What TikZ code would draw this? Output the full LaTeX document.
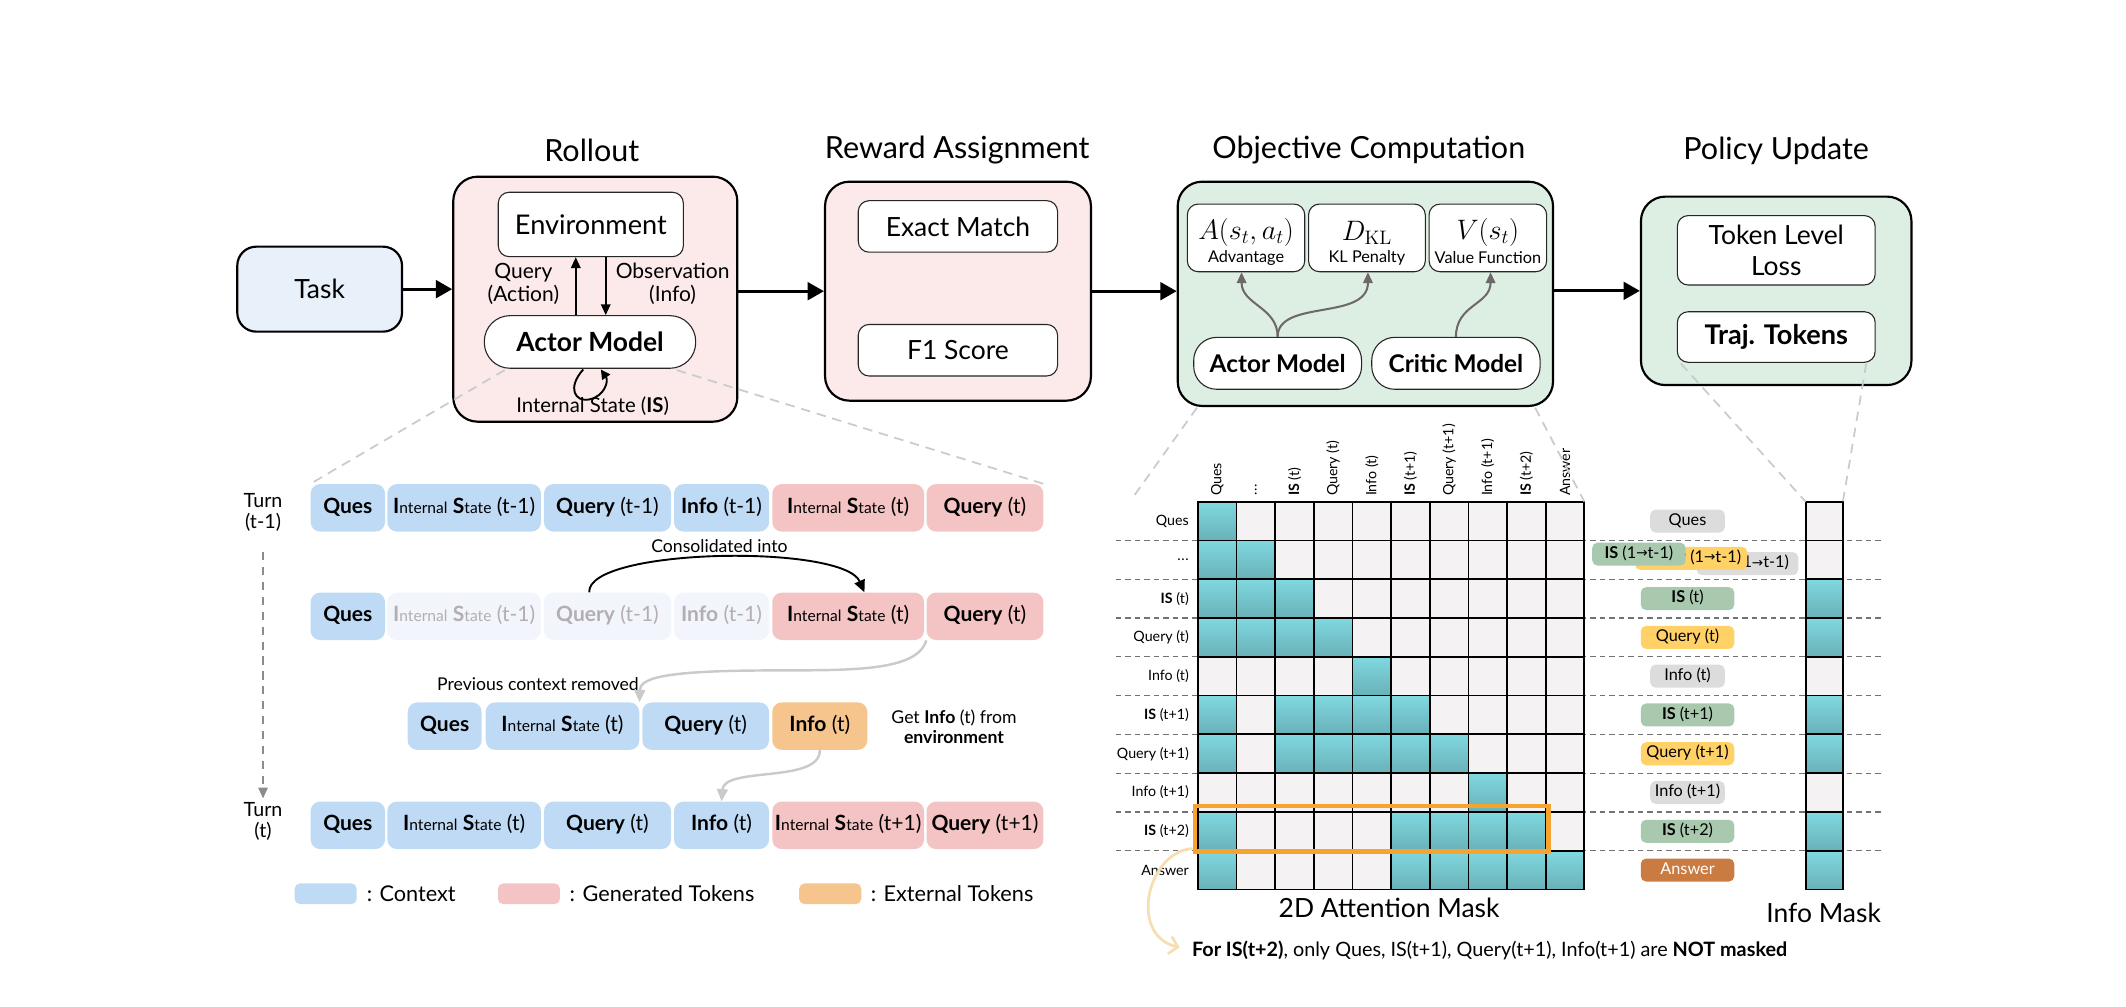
\documentclass[tikz,border=0pt]{standalone}
\usepackage[no-math]{fontspec}
\setmainfont{Lato}
\newfontfamily\arrowfont{DejaVu Sans}
\usetikzlibrary{arrows.meta,calc}
\newcommand\fsz[1]{\fontsize{#1}{\dimexpr #1pt*12/10\relax}\selectfont}
\newcommand\istok[2][11.5]{\textbf{I}{\fsz{#1}nternal} \textbf{S}{\fsz{#1}tate} #2}
\newcommand\arr{{\arrowfont\fsz{10}\raisebox{0.5pt}{→}}}
\newcommand\threedots{.\kern0.5pt.\kern0.5pt.}
\definecolor{taskblue}{HTML}{E8F0F9}
\definecolor{rpink}{HTML}{FCE9E9}
\definecolor{ogreen}{HTML}{DDEEE3}
\definecolor{tokblue}{HTML}{BFDAF4}
\definecolor{tokpink}{HTML}{F4C3C3}
\definecolor{tokorange}{HTML}{F6C48D}
\definecolor{tokfade}{HTML}{F2F5FB}
\definecolor{fadetext}{HTML}{B3AEB3}
\definecolor{tealT}{HTML}{80D8E0}
\definecolor{tealB}{HTML}{69B1B8}
\definecolor{cellE}{HTML}{F4F2F2}
\definecolor{pgray}{HTML}{DCDCDC}
\definecolor{pgreen}{HTML}{A9C9AE}
\definecolor{pyellow}{HTML}{FFD166}
\definecolor{pbrown}{HTML}{C97B42}
\definecolor{hlorange}{HTML}{F7A330}
\definecolor{tanarrow}{HTML}{F5DEB2}
\definecolor{zoomgray}{HTML}{CBCBCB}
\definecolor{arrgray}{HTML}{6E6969}
\definecolor{curvegray}{HTML}{CACACA}
\begin{document}
\begin{tikzpicture}[x=1pt,y=-1pt,
  title/.style={font=\fsz{22.5}, inner sep=0},
  stage/.style={draw=black, line width=1.6pt, rounded corners=18pt, inner sep=0},
  inbox/.style={draw=black!85, line width=0.8pt, fill=white, rounded corners=8pt, inner sep=0, font=\fsz{19.5}},
  pillbox/.style={draw=black!85, line width=0.8pt, fill=white, rounded corners=17pt, inner sep=0, font=\fsz{18}\bfseries},
  flow/.style={line width=2.2pt, -{Triangle[length=12pt,width=13pt]}},
  thin/.style={line width=1.4pt, -{Triangle[length=8pt,width=7pt]}},
  grayarr/.style={draw=arrgray, line width=1.5pt, -{Triangle[length=8pt,width=7pt]}},
  tok/.style={rounded corners=7pt, inner sep=0, minimum height=35, font=\fsz{15.5}, text height=11.5pt, text depth=3.5pt},
  zoomline/.style={draw=zoomgray, line width=1.3pt, dash pattern=on 7pt off 5pt},
  rowdash/.style={draw=black!55, line width=0.9pt, dash pattern=on 4pt off 3pt},
  lbl/.style={font=\fsz{10.5}, inner sep=0},
  tag/.style={rounded corners=4pt, inner sep=0, minimum height=17, font=\fsz{12}, text height=8.5pt, text depth=2.5pt},
  note/.style={font=\fsz{13}, inner sep=0},
  swatch/.style={rounded corners=4pt, inner sep=0, minimum width=45.8, minimum height=15.3},
  legtext/.style={font=\fsz{16}, anchor=west, inner sep=0},
  ]
\useasboundingbox (0,0) rectangle (1568,742);

% ---------- titles ----------
\node[title] (tRoll) at (436.5,111) {Rollout};
\node[title] (tRew) at (706,111) {Reward Assignment};
\node[title] (tObj) at (1009.5,111) {Objective Computation};
\node[title] (tPol) at (1310,111) {Policy Update};

% ---------- stages ----------
\node[stage, fill=taskblue, rounded corners=14pt, minimum width=121.5, minimum height=62.7, font=\fsz{19.5}] (task) at (235.75,213.25) {Task};
\node[stage, fill=rpink, minimum width=209.5, minimum height=180.7] (roll) at (439.05,220.65) {};
\node[stage, fill=rpink, minimum width=196.1, minimum height=161.5] (rew) at (706.55,214.75) {};
\node[stage, fill=ogreen, minimum width=276.8, minimum height=165.4] (obj) at (1007,216.7) {};
\node[stage, fill=ogreen, minimum width=199.5, minimum height=139] (pol) at (1310,214.5) {};

% rollout internals
\node[inbox, minimum width=136.5, minimum height=47.5, font=\fsz{20}] (env) at (435.75,165.55) {Environment};
\node[pillbox, minimum width=155.9, minimum height=38.8, rounded corners=19pt, font=\fsz{19.5}\bfseries] (actR) at (435.15,252.2) {Actor Model};
\draw[thin] ($(actR.north)+(-10.5,0)$) -- ($(env.south)+(-11.1,0)$);
\draw[thin] ($(env.south)+(11,0)$) -- ($(actR.north)+(11.6,0)$);
\node[font=\fsz{15.5}, align=center, inner sep=0] (qa) at (386,209.4) {Query\\[-1.5pt](Action)};
\node[font=\fsz{15.5}, align=center, inner sep=0] (obs) at (496.1,209.4) {Observation\\[-1.5pt](Info)};
\draw[line width=1.4pt, -{Triangle[length=7pt,width=7pt]}] ($(actR.south)+(-5,0.5)$) .. controls (418,286) and (424,297) .. (435,294.5) .. controls (446,292) and (449,281) .. ($(actR.south)+(8,0.5)$);
\node[font=\fsz{15}, inner sep=0] (isl) at (437.1,299.4) {Internal State (\textbf{IS})};

% reward internals
\node[inbox, minimum width=147, minimum height=38] (em) at (706.5,167) {Exact Match};
\node[inbox, minimum width=147, minimum height=38] (f1) at (706.5,258.3) {F1 Score};

% objective internals
\node[inbox, minimum width=86.6, minimum height=49.9] (boxA) at (919,175.45) {};
\node[inbox, minimum width=86.1, minimum height=49.9] (boxD) at (1008.15,175.45) {};
\node[inbox, minimum width=86.7, minimum height=49.9] (boxV) at (1097.35,175.45) {};
\node[font=\fsz{20}, inner sep=0] (mA) at (919,171.5) {$A(s_t,a_t)$};
\node[font=\fsz{20}, inner sep=0] (mD) at (1008.15,171.5) {$D_{\mathrm{KL}}$};
\node[font=\fsz{20}, inner sep=0] (mV) at (1097.35,171.5) {$V(s_t)$};
\node[font=\fsz{12}, inner sep=0] (lA) at (919,190.3) {Advantage};
\node[font=\fsz{12}, inner sep=0] (lD) at (1008.15,190.3) {KL Penalty};
\node[font=\fsz{12}, inner sep=0] (lV) at (1097.35,190.3) {Value Function};
\node[pillbox, minimum width=123.8, minimum height=38.3] (actO) at (942.3,267.95) {Actor Model};
\node[pillbox, minimum width=124.2, minimum height=38.3] (crit) at (1073.8,267.95) {Critic Model};
\draw[grayarr] (actO.north) .. controls +(0,-22) and +(0,24) .. ($(boxA.south)+(-3.3,0)$);
\draw[grayarr] (actO.north) .. controls +(0,-28) and +(0,36) .. ($(boxD.south)+(0.75,0)$);
\draw[grayarr] (crit.north) .. controls +(0,-24) and +(0,24) .. ($(boxV.south)+(2,0)$);

% policy internals
\node[inbox, minimum width=145.9, minimum height=51.2, align=center, font=\fsz{19.5}] (tll) at (1310.05,184.6) {Token Level\\[-1pt]Loss};
\node[inbox, minimum width=145.9, minimum height=37.3, font=\fsz{20}\bfseries] (traj) at (1310.05,248.55) {Traj. Tokens};

% stage flow arrows
\draw[flow] (task.east) -- (task.east -| roll.west);
\draw[flow] (rew.west -| roll.east) -- (rew.west);
\draw[flow] (rew.east) -- (rew.east -| obj.west);
\draw[flow] (pol.west -| obj.east) -- (pol.west);

% ---------- token rows ----------
\node[tok, fill=tokblue, minimum width=54.9] (r1a) at (256.55,374.55) {\textbf{Ques}};
\node[tok, fill=tokblue, minimum width=113.3] (r1b) at (342.35,374.55) {\istok{(t-1)}};
\node[tok, fill=tokblue, minimum width=93.7] (r1c) at (448.05,374.55) {\textbf{Query} (t-1)};
\node[tok, fill=tokblue, minimum width=70.1] (r1d) at (532.15,374.55) {\textbf{Info} (t-1)};
\node[tok, fill=tokpink, minimum width=111.9] (r1e) at (625.55,374.55) {\istok{(t)}};
\node[tok, fill=tokpink, minimum width=86.1] (r1f) at (726.45,374.55) {\textbf{Query} (t)};

\node[tok, fill=tokblue, minimum width=54.9] (r2a) at (256.55,454.55) {\textbf{Ques}};
\node[tok, fill=tokfade, text=fadetext, minimum width=113.3] (r2b) at (342.35,454.55) {\istok{(t-1)}};
\node[tok, fill=tokfade, text=fadetext, minimum width=93.7] (r2c) at (448.05,454.55) {\textbf{Query} (t-1)};
\node[tok, fill=tokfade, text=fadetext, minimum width=70.1] (r2d) at (532.15,454.55) {\textbf{Info} (t-1)};
\node[tok, fill=tokpink, minimum width=111.9] (r2e) at (625.55,454.55) {\istok{(t)}};
\node[tok, fill=tokpink, minimum width=86.1] (r2f) at (726.45,454.55) {\textbf{Query} (t)};

\node[tok, fill=tokblue, minimum width=54.5] (r3a) at (327.95,535.55) {\textbf{Ques}};
\node[tok, fill=tokblue, minimum width=113.3] (r3b) at (414.85,535.55) {\istok{(t)}};
\node[tok, fill=tokblue, minimum width=93.5] (r3c) at (520.45,535.55) {\textbf{Query} (t)};
\node[tok, fill=tokorange, minimum width=70.1] (r3d) at (604.65,535.55) {\textbf{Info} (t)};

\node[tok, fill=tokblue, minimum width=54.9] (r4a) at (256.55,608.7) {\textbf{Ques}};
\node[tok, fill=tokblue, minimum width=113.3] (r4b) at (342.35,608.7) {\istok{(t)}};
\node[tok, fill=tokblue, minimum width=93.7] (r4c) at (448.05,608.7) {\textbf{Query} (t)};
\node[tok, fill=tokblue, minimum width=70.1] (r4d) at (532.15,608.7) {\textbf{Info} (t)};
\node[tok, fill=tokpink, minimum width=111.9] (r4e) at (625.55,608.7) {\istok{(t+1)}};
\node[tok, fill=tokpink, minimum width=86.1] (r4f) at (726.45,608.7) {\textbf{Query} (t+1)};

% turn labels
\node[font=\fsz{14.5}, align=center, inner sep=0] (turn1) at (194,378) {Turn\\[-2pt](t-1)};
\node[font=\fsz{14.5}, align=center, inner sep=0] (turn2) at (194,606) {Turn\\[-2pt](t)};
\draw[draw=black!45, line width=1.2pt, dash pattern=on 6pt off 5pt, -{Triangle[length=8pt,width=7pt]}] ($(turn1.south)+(0,15)$) -- ($(turn2.north)+(0,-3)$);

% annotations
\node[note] (cons) at (530.6,403) {Consolidated into};
\draw[line width=1.4pt, -{Triangle[length=9pt,width=8pt]}] ($(r2c.north)+(-13.5,0)$) .. controls (433,404) and (622,401) .. ($(r2e.north)+(12,0)$);
\node[note] (prev) at (396.8,504.5) {Previous context removed};
\draw[draw=curvegray, line width=1.8pt, -{Triangle[length=9pt,width=8pt]}] (r2f.south west) .. controls (676,497) and (620,494) .. (560,494.5) .. controls (490,495) and (472,500) .. (r3b.north east);
\node[note, align=center] (getinfo) at (703.6,536) {Get \textbf{Info} (t) from\\[-1pt]\textbf{environment}};
\draw[draw=curvegray, line width=1.8pt, -{Triangle[length=9pt,width=8pt]}] (r3d.south) .. controls (605,578) and (534,565) .. (r4d.north);

% legend
\node[swatch, fill=tokblue] (lg1) at (240.2,659.2) {};
\node[legtext] (lt1) at (270.3,659.2) {: Context};
\node[swatch, fill=tokpink] (lg2) at (390.1,659.2) {};
\node[legtext] (lt2) at (420,659.2) {: Generated Tokens};
\node[swatch, fill=tokorange] (lg3) at (612.3,659.2) {};
\node[legtext] (lt3) at (642,659.2) {: External Tokens};

% ---------- attention mask ----------
\def\gx{883.5}\def\gy{370}\def\cw{28.5}\def\ch{28.6}
\coordinate (gridTR) at (1168.5,370);
\coordinate (zl) at (834,369);
\coordinate (maskTL) at (1331.7,370);
\coordinate (maskTR) at (1359.2,370);
\foreach \k in {1,2,3,4,5,6,7,8,9}{
  \draw[rowdash] (823,{\gy+\k*\ch}) -- (1389,{\gy+\k*\ch});
}
\foreach \r/\pat in {0/{1,0,0,0,0,0,0,0,0,0},1/{1,1,0,0,0,0,0,0,0,0},2/{1,1,1,0,0,0,0,0,0,0},3/{1,1,1,1,0,0,0,0,0,0},4/{0,0,0,0,1,0,0,0,0,0},5/{1,0,1,1,1,1,0,0,0,0},6/{1,0,1,1,1,1,1,0,0,0},7/{0,0,0,0,0,0,0,1,0,0},8/{1,0,0,0,0,1,1,1,1,0},9/{1,0,0,0,0,1,1,1,1,1}}{
  \foreach \v [count=\c from 0] in \pat {
    \ifnum\v=1
      \path[draw=black, line width=1.3pt, top color=tealT, bottom color=tealB] ({\gx+\c*\cw},{\gy+\r*\ch}) rectangle ({\gx+(\c+1)*\cw},{\gy+(\r+1)*\ch});
    \else
      \path[draw=black, line width=1.3pt, fill=cellE] ({\gx+\c*\cw},{\gy+\r*\ch}) rectangle ({\gx+(\c+1)*\cw},{\gy+(\r+1)*\ch});
    \fi
  }
}
% info mask column
\foreach \r/\v in {0/0,1/0,2/1,3/1,4/0,5/1,6/1,7/0,8/1,9/1}{
  \ifnum\v=1
    \path[draw=black, line width=1.3pt, top color=tealT, bottom color=tealB] (1331.7,{\gy+\r*\ch}) rectangle (1359.2,{\gy+(\r+1)*\ch});
  \else
    \path[draw=black, line width=1.3pt, fill=cellE] (1331.7,{\gy+\r*\ch}) rectangle (1359.2,{\gy+(\r+1)*\ch});
  \fi
}
% labels
\foreach \c/\t in {0/Ques,1/{\threedots},2/{\textbf{IS} (t)},3/{Query (t)},4/{Info (t)},5/{\textbf{IS} (t+1)},6/{Query (t+1)},7/{Info (t+1)},8/{\textbf{IS} (t+2)},9/Answer}{
  \node[lbl, rotate=90, anchor=west] (col\c) at ({\gx+(\c+0.5)*\cw},366) {\t};
  \node[lbl, anchor=east] (row\c) at (877,{\gy+(\c+0.5)*\ch}) {\t};
}
% highlight
\node[draw=hlorange, line width=3.5pt, minimum width=260.5, minimum height=33.7, inner sep=0] (hl) at (1011.55,611.25) {};
\node[font=\fsz{19.5}, inner sep=0] (am) at (1024.5,669.5) {2D Attention Mask};
\node[font=\fsz{19.5}, inner sep=0] (im) at (1345,673.6) {Info Mask};
\node[font=\fsz{14.6}, anchor=west, inner sep=0] (nt) at (879,700.7) {\textbf{For IS(t+2)}, only Ques, IS(t+1), Query(t+1), Info(t+1) are \textbf{NOT masked}};
\draw[draw=tanarrow, line width=2pt, -{Straight Barb[length=6pt,width=13pt]}] ($(hl.south west)+(0,-4)$) .. controls (846,628) and (832,690) .. ($(nt.west)+(-9,-2)$);

% right tags
\node[tag, fill=pgray, minimum width=55] (tg0) at (1244.6,384.3) {Ques};
\node[tag, fill=pgray, minimum width=75] (tg1c) at (1288.8,415.7) {Info (1\arr t-1)};
\node[tag, fill=pyellow, minimum width=82.8] (tg1b) at (1247.3,411.8) {Query (1\arr t-1)};
\node[tag, fill=pgreen, minimum width=68.9] (tg1a) at (1208.75,408.7) {\textbf{IS} (1\arr t-1)};
\node[tag, fill=pgreen, minimum width=69] (tg2) at (1244.6,441.5) {\textbf{IS} (t)};
\node[tag, fill=pyellow, minimum width=69] (tg3) at (1244.6,470.1) {Query (t)};
\node[tag, fill=pgray, minimum width=55] (tg4) at (1244.6,498.7) {Info (t)};
\node[tag, fill=pgreen, minimum width=69] (tg5) at (1244.6,527.3) {\textbf{IS} (t+1)};
\node[tag, fill=pyellow, minimum width=69] (tg6) at (1244.6,555.9) {Query (t+1)};
\node[tag, fill=pgray, minimum width=55] (tg7) at (1244.6,584.5) {Info (t+1)};
\node[tag, fill=pgreen, minimum width=69] (tg8) at (1244.6,613.1) {\textbf{IS} (t+2)};
\node[tag, fill=pbrown, text=white, minimum width=69] (tg9) at (1244.6,641.7) {Answer};

% ---------- zoom lines ----------
\draw[zoomline] ($(actR.south)+(-63,1)$) -- (r1a.north west);
\draw[zoomline] ($(actR.south)+(64,1)$) -- (r1f.north east);
\draw[zoomline] ($(obj.south west)+(15,0.5)$) -- (zl);
\draw[zoomline] ($(obj.south east)+(-14,0.5)$) -- (gridTR);
\draw[zoomline] ($(traj.south west)+(3,0.5)$) -- (maskTL);
\draw[zoomline] ($(traj.south east)+(-7,0.5)$) -- (maskTR);
\end{tikzpicture}
\end{document}
